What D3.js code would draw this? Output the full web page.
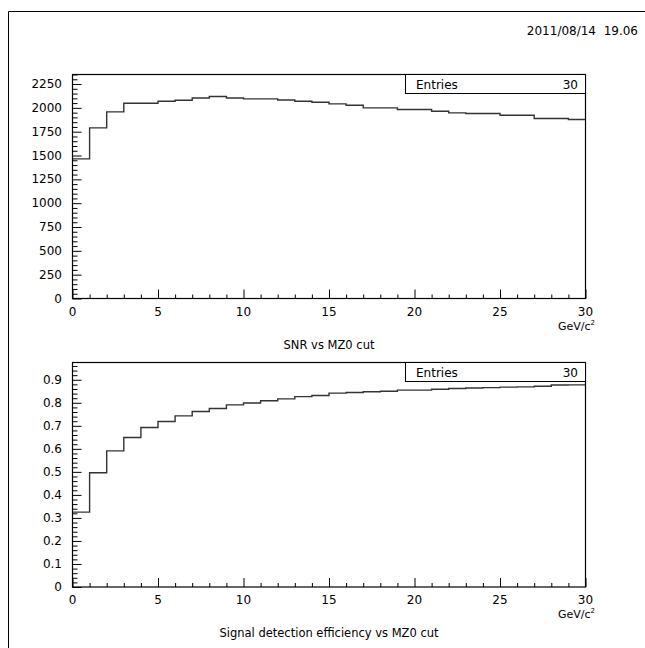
<!DOCTYPE html>
<html>
<head>
<meta charset="utf-8">
<script src="https://d3js.org/d3.v7.min.js"></script>
<style>
  body { margin: 0; background: #fff; }
  text { font-family: "DejaVu Sans", sans-serif; fill: #000; }
</style>
</head>
<body>
<svg id="canvas" width="645" height="648"></svg>
<script>

// bins: MZ0 cut 0..30 GeV/c^2, width 1
var binEdges = d3.range(0, 31);
var snrValues = [1465, 1790, 1958, 2049, 2049, 2070, 2080, 2104, 2119, 2104,
                 2094, 2094, 2083, 2070, 2059, 2042, 2028, 2000, 2000, 1983,
                 1983, 1965, 1947, 1941, 1941, 1923, 1923, 1888, 1888, 1878];
var effValues = [0.325, 0.496, 0.591, 0.649, 0.693, 0.719, 0.743, 0.762, 0.775, 0.791,
                 0.799, 0.809, 0.817, 0.827, 0.832, 0.842, 0.845, 0.848, 0.850, 0.855,
                 0.855, 0.859, 0.862, 0.864, 0.866, 0.868, 0.869, 0.872, 0.877, 0.878];
var xTicks = [0, 5, 10, 15, 20, 25, 30];
var snrTicks = [0, 250, 500, 750, 1000, 1250, 1500, 1750, 2000, 2250];
var effTicks = [0, 0.1, 0.2, 0.3, 0.4, 0.5, 0.6, 0.7, 0.8, 0.9];
var titles = ["SNR vs MZ0 cut", "Signal detection efficiency vs MZ0 cut"];
var dateLabel = "2011/08/14  19.06";
var entries = 30;

var svg = d3.select("#canvas");

// page frame
svg.append("path")
  .attr("d", "M8.5,648 V11.5 H645")
  .attr("fill", "none").attr("stroke", "#000").attr("stroke-width", 1);

svg.append("text")
  .attr("x", 638).attr("y", 35)
  .attr("text-anchor", "end")
  .style("font-size", "12px")
  .style("white-space", "pre")
  .text(dateLabel);

function drawPanel(cfg) {
  var left = 72.5, right = 585.5;
  var x = d3.scaleLinear().domain([0, 30]).range([left, right]);
  var y = d3.scaleLinear().domain([0, cfg.ymax]).range([cfg.bottom, cfg.top]);
  var g = svg.append("g");

  // histogram outline (step)
  var pts = [];
  cfg.values.forEach(function(v, i) {
    pts.push([x(binEdges[i]), y(v)]);
    pts.push([x(binEdges[i + 1]), y(v)]);
  });
  g.append("path")
    .attr("d", d3.line()(pts))
    .attr("fill", "none").attr("stroke", "#333").attr("stroke-width", 1.4);

  // frame
  g.append("rect")
    .attr("x", left).attr("y", cfg.top)
    .attr("width", right - left).attr("height", cfg.bottom - cfg.top)
    .attr("fill", "none").attr("stroke", "#000").attr("stroke-width", 1.2);

  // x axis ticks (inward)
  var xAxis = d3.axisTop(x).tickValues(d3.range(0, 31)).tickSizeInner(4).tickSizeOuter(0).tickFormat("");
  var xa = g.append("g").attr("transform", "translate(0," + cfg.bottom + ")").call(xAxis);
  xa.select(".domain").remove();
  xa.selectAll(".tick line").filter(function(d) { return d % 5 === 0; }).attr("y2", -9);
  xa.selectAll(".tick line").attr("stroke", "#000");

  g.selectAll(".xlab").data(xTicks).enter().append("text")
    .attr("x", function(d) { return x(d); })
    .attr("y", cfg.bottom + 17)
    .attr("text-anchor", "middle")
    .style("font-size", "12px")
    .text(function(d) { return d; });

  // y axis ticks (inward)
  var step = cfg.yticks[1] - cfg.yticks[0];
  var minor = d3.range(0, cfg.ymax + 1e-9, step / 5);
  var yAxis = d3.axisRight(y).tickValues(minor).tickSizeInner(5).tickSizeOuter(0).tickFormat("");
  var ya = g.append("g").attr("transform", "translate(" + left + ",0)").call(yAxis);
  ya.select(".domain").remove();
  ya.selectAll(".tick line")
    .filter(function(d) { return Math.abs(d / step - Math.round(d / step)) < 1e-6; })
    .attr("x2", 9);
  ya.selectAll(".tick line").attr("stroke", "#000");

  g.selectAll(".ylab").data(cfg.yticks).enter().append("text")
    .attr("x", 62)
    .attr("y", function(d) { return y(d) + 4; })
    .attr("text-anchor", "end")
    .style("font-size", "12px")
    .text(cfg.fmt);

  // units + title
  g.append("text")
    .attr("x", 558).attr("y", cfg.bottom + 31)
    .style("font-size", "11px")
    .html('GeV/c<tspan dy="-5" style="font-size:7px">2</tspan>');
  g.append("text")
    .attr("x", 329).attr("y", cfg.bottom + 50)
    .attr("text-anchor", "middle")
    .style("font-size", "11.5px")
    .text(cfg.title);

  // stats box
  g.append("rect")
    .attr("x", 405.5).attr("y", cfg.top)
    .attr("width", right - 405.5).attr("height", 19)
    .attr("fill", "#fff").attr("stroke", "#000").attr("stroke-width", 1);
  g.append("text").attr("x", 416).attr("y", cfg.top + 14)
    .style("font-size", "12px").text("Entries");
  g.append("text").attr("x", 578).attr("y", cfg.top + 14)
    .attr("text-anchor", "end")
    .style("font-size", "12px").text(entries);
}

drawPanel({ values: snrValues, ymax: 2350, top: 74.5, bottom: 298.5,
            yticks: snrTicks, fmt: function(d) { return d; }, title: titles[0] });
drawPanel({ values: effValues, ymax: 0.975, top: 362.5, bottom: 587,
            yticks: effTicks, fmt: function(d) { return d === 0 ? "0" : d3.format(".1f")(d); }, title: titles[1] });

</script>
</body>
</html>
